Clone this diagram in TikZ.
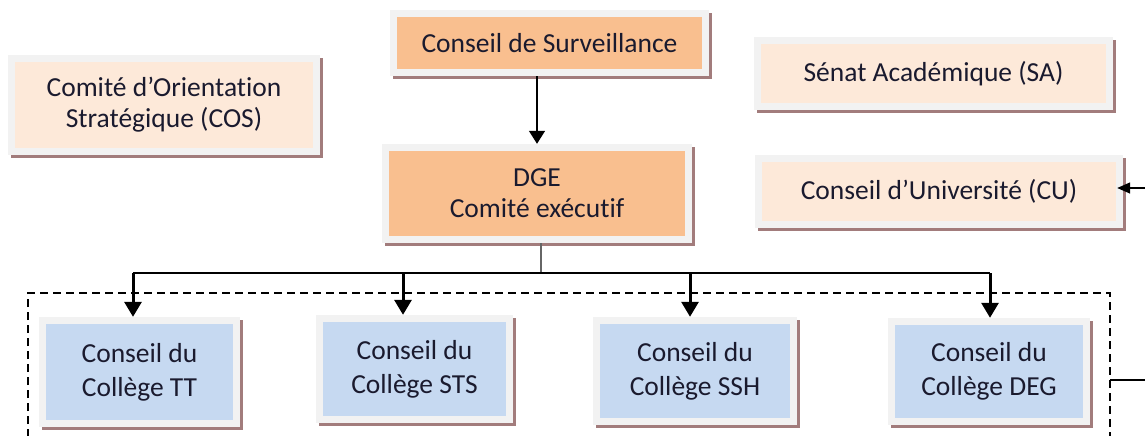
\documentclass[tikz,border=0pt]{standalone}
\usepackage{fontspec}
\setmainfont{Carlito}[Ligatures=NoCommon]
\usetikzlibrary{arrows.meta,shadows}
\definecolor{framegray}{HTML}{F2F2F2}
\definecolor{shadowred}{HTML}{A27C7C}
\definecolor{peachdark}{HTML}{F9BF8F}
\definecolor{peachlight}{HTML}{FDE9D9}
\definecolor{collegeblue}{HTML}{C6D9F1}
\definecolor{inktext}{HTML}{1A1A2E}
\tikzset{
  orgbox/.style={fill=framegray, inner sep=0pt, align=center, text=inktext,
    font=\fontsize{27.5}{31}\selectfont,
    drop shadow={shadow xshift=3pt, shadow yshift=-3pt, fill=shadowred, opacity=1},
    path picture={\fill[#1] ([shift={(7pt,-7pt)}]path picture bounding box.north west)
      rectangle ([shift={(-7pt,7pt)}]path picture bounding box.south east);}},
  college/.style={orgbox=collegeblue, font=\fontsize{27.5}{34}\selectfont},
  downarrow/.style={-{Triangle[width=17pt,length=15pt]}, line width=3pt},
}

\begin{document}
\begin{tikzpicture}[x=1pt, y=-1pt]
	%%%%% START %%%%%
	\useasboundingbox (0,0) rectangle (1145,436);
	
	\node[orgbox=peachdark, minimum width=319pt, minimum height=66pt] (surv) at (549.5,43) {Conseil de Surveillance};
	\node[orgbox=peachlight, minimum width=312pt, minimum height=100pt] (cos) at (164,105) {Comité d’Orientation\\Stratégique (COS)};
	\node[orgbox=peachlight, minimum width=359pt, minimum height=73pt] (sa) at (933.5,73.5) {Sénat Académique (SA)};
	\node[orgbox=peachdark, minimum width=310pt, minimum height=99pt] (dge) at (537,193.5) {DGE\\Comité exécutif};
	\node[orgbox=peachlight, minimum width=368pt, minimum height=73pt] (cu) at (939,191.5) {Conseil d’Université (CU)};
	
	\node[college, minimum width=201pt, minimum height=110pt] (tt) at (139.5,372) {Conseil du\\Collège TT};
	\node[college, minimum width=197pt, minimum height=108pt] (sts) at (414.5,369) {Conseil du\\Collège STS};
	\node[college, minimum width=204pt, minimum height=108pt] (ssh) at (695,371) {Conseil du\\Collège SSH};
	\node[college, minimum width=202pt, minimum height=107pt] (deg) at (989,371.5) {Conseil du\\Collège DEG};
	
	\draw[-{Triangle[width=16pt,length=13pt]}, line width=1.5pt] (dge.north |- surv.south) -- (dge.north);
	
	\coordinate (fork) at ([xshift=4pt]dge.south |- 0,273);
	\coordinate (bustt) at (133,273);
	\coordinate (bussts) at (403,273);
	\coordinate (busssh) at (690,273);
	\coordinate (busdeg) at (990,273);
	\draw[line width=1.5pt, black!60] ([xshift=4pt]dge.south) -- (fork);
	\draw[line width=1.5pt] (bustt) -- (busdeg);
	\draw[downarrow] (bustt) -- (bustt |- tt.north);
	\draw[downarrow] (bussts) -- (bussts |- sts.north);
	\draw[downarrow] (busssh) -- (busssh |- ssh.north);
	\draw[downarrow] (busdeg) -- (busdeg |- deg.north);
	
	\draw[line width=1.5pt, dash pattern=on 8pt off 5pt] (28,450) -- (28,293) -- (1110,293) -- (1110,450);
	
	\coordinate (rightcu) at (1145,188);
	\coordinate (rightcol) at (1145,380);
	\draw[-{Triangle[width=11pt,length=13pt]}, line width=1.5pt] (rightcu) -- ([xshift=-6pt]cu.east |- rightcu);
	\draw[line width=1.5pt] (1110,380) -- (rightcol);
	%%%%% END %%%%%
\end{tikzpicture}
\end{document}
